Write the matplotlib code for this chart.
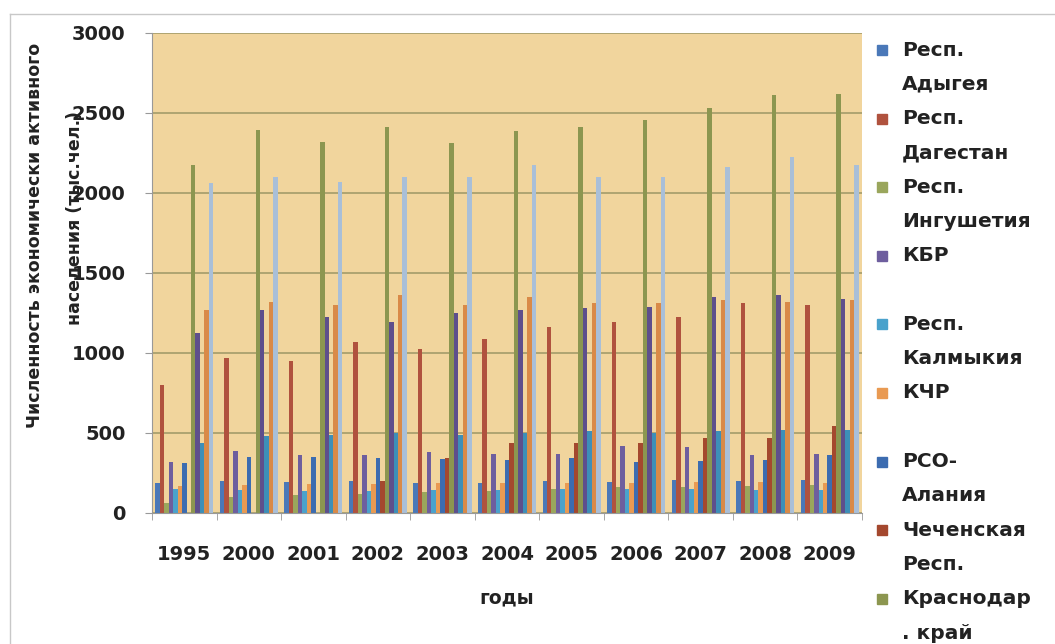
import matplotlib.pyplot as plt
import numpy as np
from matplotlib.lines import Line2D

plt.rcParams['font.family'] = ['DejaVu Sans']

# данные (тыс. чел.)
years = ['1995', '2000', '2001', '2002', '2003', '2004', '2005', '2006', '2007', '2008', '2009']

adygea = [190, 200, 195, 200, 185, 190, 200, 195, 205, 200, 205]
dagestan = [800, 970, 950, 1070, 1025, 1085, 1165, 1195, 1225, 1310, 1300]
ingushetia = [60, 100, 110, 120, 130, 140, 150, 160, 165, 170, 175]
kbr = [320, 390, 365, 360, 380, 370, 370, 420, 415, 365, 370]
kalmykia = [150, 145, 140, 140, 145, 145, 150, 150, 150, 145, 145]
kchr = [170, 175, 180, 180, 185, 185, 190, 190, 195, 195, 190]
rso = [310, 350, 350, 345, 340, 330, 345, 320, 325, 330, 360]
chechen = [0, 0, 0, 200, 345, 440, 440, 440, 470, 470, 545]
krasnodar = [2175, 2395, 2320, 2410, 2310, 2390, 2410, 2455, 2530, 2610, 2620]
stavropol = [1125, 1270, 1225, 1195, 1250, 1270, 1280, 1290, 1350, 1360, 1340]
astrakhan = [440, 480, 490, 500, 490, 500, 510, 500, 510, 520, 520]
volgograd = [1270, 1320, 1300, 1360, 1300, 1350, 1310, 1310, 1330, 1320, 1330]
rostov = [2060, 2100, 2070, 2100, 2100, 2175, 2100, 2100, 2165, 2225, 2175]

series = [adygea, dagestan, ingushetia, kbr, kalmykia, kchr, rso, chechen,
          krasnodar, stavropol, astrakhan, volgograd, rostov]
colors = ['#4a78b8', '#b0523e', '#9aa65c', '#6e5e9e', '#4aa2cc', '#e99a52',
          '#3c6cb0', '#a4482e', '#8c9650', '#5e4f8c', '#3d8fb8', '#d98a48',
          '#a9bfd8']

# подписи легенды (видимая часть)
legend_lines = [('Респ.', 'Адыгея'), ('Респ.', 'Дагестан'), ('Респ.', 'Ингушетия'),
                ('КБР', ''), ('Респ.', 'Калмыкия'), ('КЧР', ''),
                ('РСО-', 'Алания'), ('Чеченская', 'Респ.'), ('Краснодар', '. край')]

fig = plt.figure(figsize=(10.55, 6.44), dpi=100)
ax = fig.add_axes([152 / 1055, 1 - 513 / 644, 710 / 1055, 480 / 644])

n = len(series)
x = np.arange(len(years))
w = 0.9 / n
for i, vals in enumerate(series):
    ax.bar(x - 0.45 + w * (i + 0.5), vals, width=w, color=colors[i], linewidth=0)

ax.set_facecolor('#f1d59d')
ax.set_xlim(-0.5, len(years) - 0.5)
ax.set_ylim(0, 3000)
ax.set_yticks(np.arange(0, 3001, 500))
ax.yaxis.grid(True, color='#a9a06e', linewidth=1.3)
ax.set_axisbelow(True)

ax.set_xticks(x)
ax.set_xticklabels(years)
ax.set_xticks(np.arange(-0.5, len(years)), minor=True)
ax.tick_params(axis='x', which='major', length=0, pad=23, labelsize=14)
ax.tick_params(axis='x', which='minor', length=5, color='#999999')
ax.tick_params(axis='y', length=5, color='#999999', pad=14, labelsize=14)
for lab in ax.get_xticklabels() + ax.get_yticklabels():
    lab.set_fontweight('bold')
    lab.set_color('#222222')

for s in ['top', 'right']:
    ax.spines[s].set_visible(False)
for s in ['left', 'bottom']:
    ax.spines[s].set_color('#999999')

# подписи осей
fig.text(507 / 1055, 1 - 598 / 644, 'годы', ha='center', va='center',
         fontsize=13.5, fontweight='bold', color='#222222')
fig.text(35 / 1055, 1 - 235 / 644, 'Численность экономически активного',
         rotation=90, ha='center', va='center', fontsize=12.5, fontweight='bold', color='#222222')
fig.text(75 / 1055, 1 - 218 / 644, 'населения (тыс.чел.)',
         rotation=90, ha='center', va='center', fontsize=12.5, fontweight='bold', color='#222222')

# легенда вручную
line_h = 34.3
for k, (l1, l2) in enumerate(legend_lines):
    y1 = 50 + 2 * k * line_h
    fig.text(902 / 1055, 1 - y1 / 644, l1, ha='left', va='center',
             fontsize=14.5, fontweight='bold', color='#222222')
    if l2:
        fig.text(902 / 1055, 1 - (y1 + line_h) / 644, l2, ha='left', va='center',
                 fontsize=14.5, fontweight='bold', color='#222222')
    fig.patches.append(plt.Rectangle((877 / 1055, 1 - (y1 + 5) / 644), 10 / 1055, 10 / 644,
                                     transform=fig.transFigure, color=colors[k]))

# рамка области диаграммы
fig.add_artist(Line2D([10 / 1055, 10 / 1055], [0, 1 - 14 / 644], transform=fig.transFigure,
                      color='#c8c8c8', linewidth=1))
fig.add_artist(Line2D([10 / 1055, 1], [1 - 14 / 644, 1 - 14 / 644], transform=fig.transFigure,
                      color='#c8c8c8', linewidth=1))

fig.savefig('out.png', dpi=100)
